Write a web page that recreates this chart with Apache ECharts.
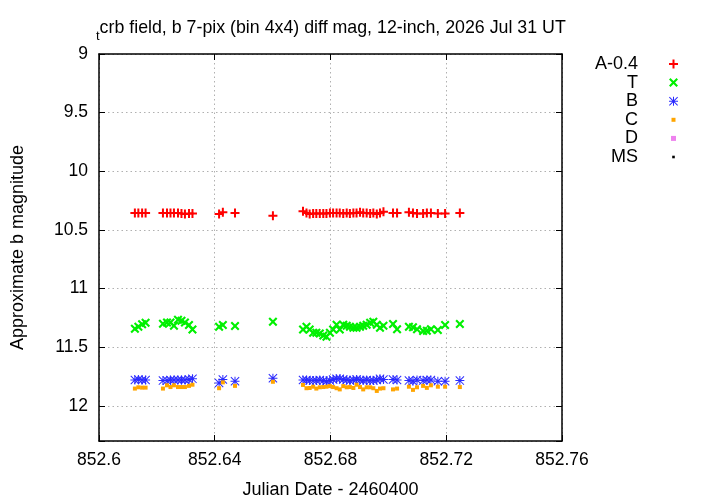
<!DOCTYPE html>
<html><head><meta charset="utf-8">
<script src="https://cdn.jsdelivr.net/npm/echarts@6/dist/echarts.min.js"></script>
<style>html,body{margin:0;padding:0;background:#fff}#c{width:720px;height:504px}</style>
</head><body><div id="c"></div>
<script>
var jd = [852.6124, 852.6136, 852.6149, 852.6161,
  852.6221, 852.6235, 852.6247, 852.6259, 852.6273, 852.6285, 852.6297, 852.6311, 852.6323,
  852.6415, 852.6428, 852.6470, 852.6601,
  852.6705, 852.6717, 852.6728, 852.6740, 852.6751, 852.6763, 852.6775, 852.6786, 852.6798, 852.6809,
  852.6821, 852.6832, 852.6844, 852.6856, 852.6867, 852.6879, 852.6890, 852.6902, 852.6913, 852.6925,
  852.6937, 852.6948, 852.6960, 852.6971, 852.6983,
  852.7016, 852.7030, 852.7071, 852.7085, 852.7099, 852.7120, 852.7133, 852.7147, 852.7171, 852.7196, 852.7247];
var magA = [10.355, 10.355, 10.355, 10.355,
  10.355, 10.355, 10.355, 10.355, 10.355, 10.36, 10.365, 10.36, 10.36,
  10.365, 10.35, 10.355, 10.38,
  10.34, 10.355, 10.365, 10.36, 10.36, 10.36, 10.36, 10.36, 10.355, 10.355, 10.355, 10.355, 10.36,
  10.355, 10.36, 10.355, 10.355, 10.35, 10.355, 10.355, 10.36, 10.355, 10.365, 10.355, 10.345,
  10.355, 10.355, 10.35, 10.355, 10.36, 10.36, 10.355, 10.355, 10.36, 10.36, 10.355];
var magT = [11.342, 11.325, 11.305, 11.292,
  11.30, 11.29, 11.29, 11.317, 11.266, 11.275, 11.29, 11.31, 11.35,
  11.325, 11.31, 11.32, 11.283,
  11.350, 11.325, 11.350, 11.376, 11.376, 11.384, 11.401, 11.41, 11.376, 11.350, 11.308, 11.350, 11.308,
  11.317, 11.325, 11.334, 11.334, 11.325, 11.317, 11.308, 11.291, 11.283, 11.308, 11.334, 11.317,
  11.302, 11.348, 11.325, 11.331, 11.348, 11.362, 11.359, 11.348, 11.353, 11.311, 11.302];
var magB = [11.78, 11.775, 11.78, 11.78,
  11.785, 11.785, 11.78, 11.78, 11.78, 11.78, 11.78, 11.775, 11.77,
  11.805, 11.775, 11.79, 11.765,
  11.78, 11.78, 11.785, 11.785, 11.785, 11.78, 11.785, 11.79, 11.785, 11.775, 11.77, 11.77, 11.775,
  11.78, 11.785, 11.78, 11.775, 11.78, 11.785, 11.78, 11.785, 11.785, 11.78, 11.77, 11.775,
  11.775, 11.78, 11.785, 11.79, 11.78, 11.785, 11.78, 11.78, 11.79, 11.79, 11.785];
var magC = [11.853, 11.842, 11.845, 11.845,
  11.853, 11.825, 11.84, 11.825, 11.84, 11.84, 11.84, 11.83, 11.82,
  11.85, 11.80, 11.83, 11.795,
  11.822, 11.85, 11.848, 11.837, 11.853, 11.842, 11.84, 11.837, 11.832, 11.84, 11.85, 11.86, 11.832,
  11.842, 11.84, 11.848, 11.82, 11.84, 11.86, 11.842, 11.842, 11.85, 11.873, 11.853,
  11.85,
  11.86, 11.853, 11.837, 11.864, 11.842, 11.83, 11.847, 11.825, 11.837, 11.837, 11.84];
var magD = [];
var magMS = [];
var names = ['A-0.4', 'T', 'B', 'C', 'D', 'MS'];
var xTicks = [852.6, 852.64, 852.68, 852.72, 852.76];
var yTicks = [9, 9.5, 10, 10.5, 11, 11.5, 12];

var FONT = 'Liberation Sans, Arial, Helvetica, sans-serif';
var sym = {
  plus: 'path://M0,0M9,9M3.5,0H5.5V3.5H9V5.5H5.5V9H3.5V5.5H0V3.5H3.5Z',
  cross: 'path://M0,0M9,9M0,1.5L1.5,0L4.5,3L7.5,0L9,1.5L6,4.5L9,7.5L7.5,9L4.5,6L1.5,9L0,7.5L3,4.5Z',
  star: 'path://M0,0M9,9M4,0H5V9H4ZM0,4H9V5H0ZM0,0.7L0.7,0L9,8.3L8.3,9ZM8.3,0L9,0.7L0.7,9L0,8.3Z',
  sqS: 'path://M0,0M9,9M2.5,2.5H6.5V6.5H2.5Z',
  sqM: 'path://M0,0M9,9M2,2H7V7H2Z',
  dot: 'path://M0,0M9,9M3.2,3.2H5.8V5.8H3.2Z'
};
function pts(m) { return m.map(function (v, i) { return [jd[i], v]; }); }
var colors = ['#ff0000', '#00f000', '#2a2aff', '#ffa500', '#ee82ee', '#000000'];
var syms = [sym.plus, sym.cross, sym.star, sym.sqS, sym.sqM, sym.dot];
var mags = [magA, magT, magB, magC, magD, magMS];

var series = names.map(function (n, k) {
  return {
    name: n, type: 'scatter', data: pts(mags[k]), symbol: syms[k], symbolSize: 9,
    itemStyle: { color: colors[k], opacity: 1 }, xAxisIndex: 0, yAxisIndex: 0,
    animation: false
  };
});

function isTick(arr, v) { return arr.some(function (t) { return Math.abs(t - v) < 1e-6; }); }

var axisCommon = {
  axisLine: { show: true, lineStyle: { color: '#000', width: 1.5 } },
  axisTick: { show: true, inside: true, length: 6, lineStyle: { color: '#000', width: 1 } }
};

var chart = echarts.init(document.getElementById('c'), null, { renderer: 'canvas' });
chart.setOption({
  backgroundColor: '#fff',
  animation: false,
  textStyle: { fontFamily: FONT },
  title: {
    text: '{s|t}{n|crb field, b 7-pix (bin 4x4) diff mag, 12-inch, 2026 Jul 31 UT}',
    left: 91, top: 8,
    textStyle: {
      fontWeight: 'normal',
      rich: {
        s: { fontSize: 13, fontFamily: FONT, color: '#000', fontWeight: 'normal', padding: [17, 0, 0, 0] },
        n: { fontSize: 17.8, fontFamily: FONT, color: '#000', fontWeight: 'normal' }
      }
    }
  },
  legend: {
    orient: 'vertical', right: 37, top: 50, align: 'right',
    itemWidth: 9, itemHeight: 9, itemGap: 0.6,
    data: names,
    formatter: function (n) { return '{a|' + n + '}'; },
    textStyle: {
      rich: { a: { fontSize: 18, fontFamily: FONT, color: '#000', width: 80, align: 'right', lineHeight: 19, padding: [0, 26, 0, 0] } }
    }
  },
  grid: { left: 99, right: 158, top: 54, bottom: 58, containLabel: false },
  xAxis: [
    Object.assign({
      type: 'value', min: 852.6, max: 852.76, interval: 0.04, position: 'bottom',
      name: 'Julian Date - 2460400', nameLocation: 'middle', nameGap: 40,
      nameTextStyle: { fontSize: 18, color: '#000', fontFamily: FONT },
      axisLabel: { color: '#000', fontSize: 17.5, margin: 10, fontFamily: FONT,
        formatter: function (v) { return isTick(xTicks, v) ? String(+v.toFixed(2)) : ''; } },
      splitLine: { show: true, lineStyle: { color: '#b0b0b0', width: 1, type: [1.5, 3] } }
    }, axisCommon),
    Object.assign({
      type: 'value', min: 852.6, max: 852.76, interval: 0.04, position: 'top',
      axisLabel: { show: false }, splitLine: { show: false }
    }, axisCommon)
  ],
  yAxis: [
    Object.assign({
      type: 'value', min: 9, max: 12.3, interval: 0.5, inverse: true, position: 'left',
      name: 'Approximate b magnitude', nameLocation: 'middle', nameGap: 72,
      nameTextStyle: { fontSize: 18, color: '#000', fontFamily: FONT },
      axisLabel: { color: '#000', fontSize: 17.5, margin: 11, fontFamily: FONT,
        formatter: function (v) { return isTick(yTicks, v) ? String(+v.toFixed(1)) : ''; } },
      splitLine: { show: true, lineStyle: { color: '#b0b0b0', width: 1, type: [1.5, 3] } }
    }, axisCommon),
    Object.assign({
      type: 'value', min: 9, max: 12.3, interval: 0.5, inverse: true, position: 'right',
      axisLabel: { show: false }, splitLine: { show: false }
    }, axisCommon)
  ],
  series: series
});
</script></body></html>
